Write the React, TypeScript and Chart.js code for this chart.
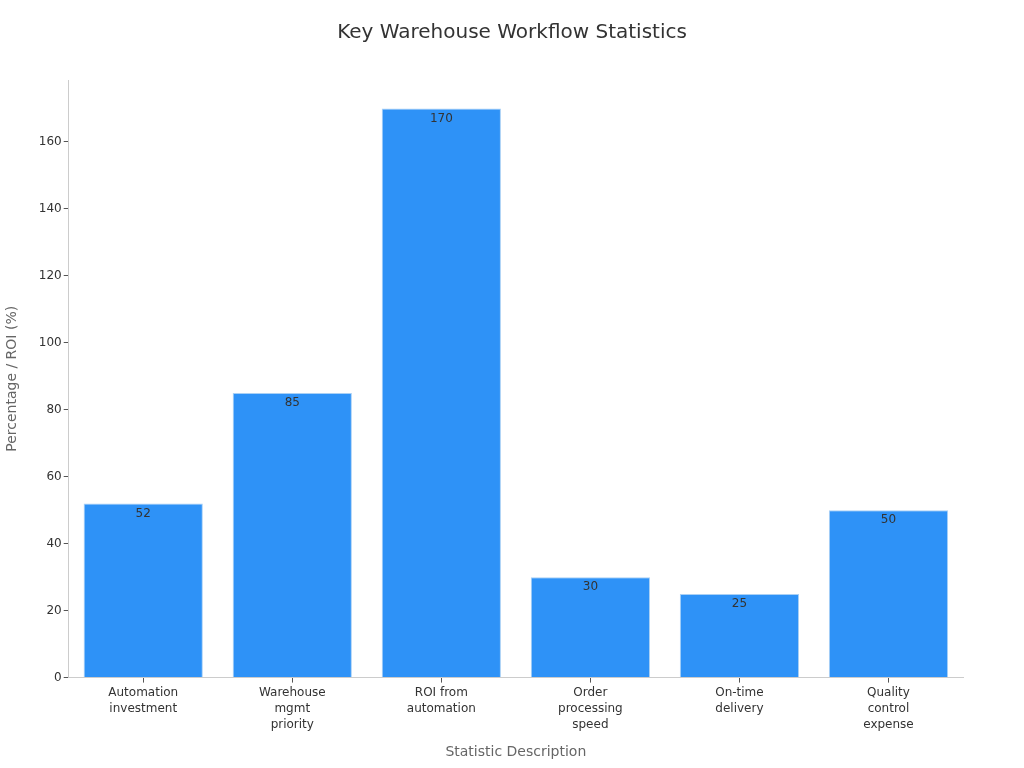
import React, { useEffect, useRef } from 'react';
import { Chart, registerables, Plugin } from 'chart.js';

Chart.register(...registerables);

const categories: string[][] = [
    ['Automation', 'investment'],
    ['Warehouse', 'mgmt', 'priority'],
    ['ROI from', 'automation'],
    ['Order', 'processing', 'speed'],
    ['On-time', 'delivery'],
    ['Quality', 'control', 'expense'],
];
const values: number[] = [52, 85, 170, 30, 25, 50];
const chartTitle = 'Key Warehouse Workflow Statistics';

const FONT = "'DejaVu Sans', sans-serif";

// value labels just inside the top of each bar, plus a title centred on the whole canvas
const extras: Plugin<'bar'> = {
    id: 'extras',
    afterDatasetsDraw(chart) {
        const ctx = chart.ctx;
        const meta = chart.getDatasetMeta(0);
        ctx.save();
        ctx.font = `12px ${FONT}`;
        ctx.fillStyle = '#333333';
        ctx.textAlign = 'center';
        ctx.textBaseline = 'middle';
        meta.data.forEach((bar, i) => {
            ctx.fillText(String(values[i]), bar.x, bar.y + 10);
        });
        ctx.font = `20px ${FONT}`;
        ctx.fillText(chartTitle, chart.width / 2, 33);
        ctx.restore();
    },
};

const App = () => {
    const chartRef = useRef<HTMLCanvasElement>(null);

    useEffect(() => {
        document.body.style.margin = '0';
        if (!chartRef.current) return;
        const ctx = chartRef.current.getContext('2d');
        if (!ctx) return;

        const myChart = new Chart(ctx, {
            type: 'bar',
            data: {
                labels: categories,
                datasets: [{
                    data: values,
                    backgroundColor: '#2E92F7',
                    borderColor: '#A9D0F5',
                    borderWidth: 1,
                    barPercentage: 0.8,
                    categoryPercentage: 1,
                }],
            },
            options: {
                responsive: false,
                animation: false,
                layout: { padding: { left: 0, right: 61, top: 80, bottom: 7 } },
                plugins: {
                    legend: { display: false },
                    tooltip: { enabled: false },
                    title: { display: false },
                },
                scales: {
                    x: {
                        grid: { drawOnChartArea: false, drawTicks: true, tickLength: 5, color: '#555555', offset: false },
                        border: { color: '#cccccc' },
                        ticks: { color: '#333333', font: { family: FONT, size: 12, lineHeight: 1.35 }, maxRotation: 0, padding: 2 },
                        title: {
                            display: true,
                            text: 'Statistic Description',
                            color: '#666666',
                            font: { family: FONT, size: 14 },
                            padding: { top: 9, bottom: 0 },
                        },
                    },
                    y: {
                        min: 0,
                        max: 178.5,
                        afterBuildTicks: (axis) => {
                            axis.ticks = axis.ticks.filter((t) => t.value % 20 === 0);
                        },
                        grid: { drawOnChartArea: false, drawTicks: true, tickLength: 5, color: '#555555' },
                        border: { color: '#cccccc' },
                        ticks: { stepSize: 20, color: '#333333', font: { family: FONT, size: 12 }, padding: 2 },
                        title: {
                            display: true,
                            text: 'Percentage / ROI (%)',
                            color: '#666666',
                            font: { family: FONT, size: 14 },
                            padding: { top: 4, bottom: 16 },
                        },
                    },
                },
            },
            plugins: [extras],
        });

        return () => myChart.destroy();
    }, []);

    return (
        <div style={{ width: 1024, height: 768 }}>
            <canvas ref={chartRef} width={1024} height={768} />
        </div>
    );
};

export default App;
